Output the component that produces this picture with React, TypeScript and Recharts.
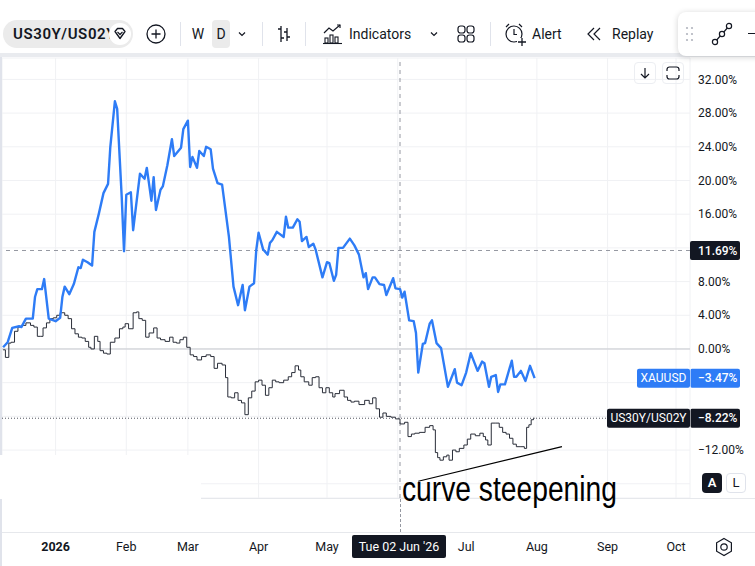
import React from "react";
import {
  ComposedChart,
  Line,
  XAxis,
  YAxis,
  CartesianGrid,
  ReferenceLine,
} from "recharts";

const FONT = "Roboto, 'Noto Sans', Arial, sans-serif";

// time scale, in days from 1 Jan 2026 (where each month label sits)
const monthDays = [1, 32, 59, 90, 120, 151, 181, 212, 243, 273];
const monthLabels = ["2026", "Feb", "Mar", "Apr", "May", "Jun", "Jul", "Aug", "Sep", "Oct"];

// percentage price scale
const pctTicks = [-16, -12, -8, -4, 0, 4, 8, 12, 16, 20, 24, 28, 32];
const hiddenPctLabels = [12, -4, -8, -16]; // sit under the tags / A-L buttons

// XAUUSD, % change (blue line)
const xauDays = [
  -22, -20, -18, -15, -14, -12, -9, -8, -7, -5, -4, -2, 1, 3, 4, 5, 7, 9, 11, 12,
  13, 15, 17, 18, 20, 22, 24, 25, 27, 28, 30, 31, 32, 34, 35, 37, 38, 40, 41, 43,
  44, 45, 47, 48, 50, 52, 53, 56, 57, 59, 60, 61, 63, 64, 66, 67, 69, 70, 72, 74,
  77, 79, 81, 83, 84, 86, 88, 89, 90, 92, 94, 95, 96, 98, 101, 102, 103, 105, 107, 108,
  109, 111, 112, 114, 115, 118, 120, 121, 123, 124, 125, 127, 130, 132, 134, 136, 137, 138, 140, 141,
  143, 145, 146, 149, 150, 152, 153, 154, 156, 158, 159, 160, 162, 163, 165, 166, 168, 170, 173, 176,
  177, 179, 181, 183, 186, 188, 189, 191, 192, 194, 195, 196, 198, 201, 202, 203, 205, 207, 209, 211,
];
const xauPct = [
  0.2, 0.8, 2.5, 2.7, 2.6, 3.6, 3.6, 6.2, 7.1, 7.1, 8.3, 3.6, 3.3, 3.7, 6.2, 7.4, 6.5, 7.7, 9.7, 9.6,
  10.6, 10.3, 9.9, 13.9, 16.1, 18.5, 19.6, 24.0, 29.4, 28.5, 18.0, 11.6, 18.3, 18.6, 14.1, 18.6, 20.8, 20.2, 21.5, 17.6,
  20.4, 16.5, 18.9, 19.3, 21.8, 24.9, 22.9, 23.9, 26.1, 27.1, 21.6, 22.8, 21.5, 23.5, 22.9, 24.0, 23.7, 21.4, 19.7, 19.5,
  13.3, 7.4, 5.2, 7.6, 4.6, 7.4, 7.8, 11.8, 13.8, 11.8, 11.2, 12.6, 12.9, 13.9, 13.3, 15.7, 14.4, 14.4, 15.4, 15.1,
  12.8, 13.3, 12.1, 12.5, 11.8, 8.5, 10.3, 10.2, 8.1, 8.8, 12.0, 12.0, 13.1, 12.3, 11.2, 8.5, 9.0, 7.1, 8.5, 8.5,
  7.7, 7.6, 6.4, 8.4, 7.2, 7.1, 6.1, 6.8, 3.4, 3.3, 1.9, -2.8, 0.6, 0.7, 3.0, 3.4, 0.7, 0.1, -4.5, -2.4,
  -4.0, -4.3, -2.8, -0.5, -2.6, -1.5, -1.7, -4.5, -3.3, -3.1, -5.1, -4.2, -4.2, -1.4, -3.3, -3.3, -2.6, -3.8, -2.0, -3.47,
];

// US30Y/US02Y, % change (black bars)
const curveDays = [
  -22, -20, -19, -18, -16, -15, -13, -11, -9, -8, -6, -5, -4, -2, -1, 1, 2, 4, 6, 7,
  9, 10, 12, 13, 15, 16, 17, 19, 20, 21, 23, 24, 26, 28, 30, 31, 32, 34, 36, 37,
  38, 40, 41, 43, 45, 46, 48, 50, 52, 53, 55, 56, 58, 59, 61, 62, 64, 66, 68, 70,
  71, 73, 75, 76, 77, 79, 80, 82, 83, 85, 86, 88, 89, 91, 92, 94, 95, 97, 98, 100,
  102, 104, 105, 107, 108, 109, 111, 113, 114, 116, 117, 119, 120, 122, 123, 124, 127, 128, 130, 131,
  133, 135, 138, 139, 141, 142, 144, 145, 147, 149, 151, 153, 155, 156, 158, 159, 162, 164, 166, 167,
  168, 169, 170, 172, 173, 174, 176, 177, 179, 181, 182, 184, 186, 188, 189, 190, 191, 193, 195, 196,
  198, 199, 201, 202, 204, 206, 207, 208, 209, 210, 211,
];
const curvePct = [
  -0.1, -1.0, 0.7, 0.8, 2.1, 2.6, 2.8, 3.1, 2.8, 2.6, 1.5, 1.5, 2.5, 3.1, 3.6, 3.7, 4.0, 4.3, 4.0, 3.6,
  2.4, 1.8, 1.4, 1.3, 0.9, 0.2, 0.0, 1.5, 0.9, -0.2, -0.5, -0.6, 0.8, 1.3, 2.4, 2.6, 3.0, 2.4, 4.3, 4.4,
  3.6, 3.4, 1.4, 1.9, 2.5, 1.3, 1.1, 0.9, 1.4, 0.8, 0.7, 1.1, 1.4, 0.2, -0.7, -0.9, -1.3, -0.9, -0.7, -0.9,
  -2.3, -1.7, -1.9, -3.4, -5.7, -5.8, -5.2, -6.1, -6.4, -7.8, -5.8, -5.0, -3.9, -3.7, -4.3, -5.5, -4.6, -3.7, -3.9, -4.0,
  -3.7, -3.3, -2.8, -2.0, -2.5, -3.3, -3.9, -4.3, -3.4, -3.3, -4.6, -5.2, -4.6, -5.2, -5.7, -5.3, -4.9, -5.7, -6.1, -6.3,
  -6.2, -6.6, -6.1, -6.5, -5.8, -7.1, -8.1, -7.6, -8.0, -8.1, -8.3, -8.9, -8.7, -10.4, -10.1, -10.0, -9.9, -9.3, -9.1, -9.6,
  -12.3, -12.9, -13.2, -12.8, -12.6, -13.2, -12.0, -12.2, -11.8, -11.4, -10.7, -10.1, -10.3, -10.0, -10.4, -10.8, -11.4, -8.8, -8.8, -9.3,
  -9.9, -10.1, -10.6, -11.3, -11.6, -11.6, -11.8, -9.3, -9.0, -8.4, -8.22,
];

const xauLast = -3.47;
const curveLast = -8.22;
const crosshairDay = 152; // Tue 02 Jun '26
const crosshairPct = 11.69;

// hand-drawn trend line under the recent lows
const trendDays = [160, 223];
const trendPct = [-15.7, -11.6];

const xauData = xauDays.map((day, i) => ({ day, pct: xauPct[i] }));
const curveData = curveDays.map((day, i) => ({ day, pct: curvePct[i] }));

const BLUE = "#2e7cf6";
const INK = "#131722";

const fmtPct = (v: number, digits = 2) =>
  (v < 0 ? "\u2212" : "") + Math.abs(v).toFixed(digits) + "%";

function MonthTick({ x, y, payload }: any) {
  const i = monthDays.indexOf(payload.value);
  // the crosshair date box covers the month under it
  if (Math.abs(payload.value - crosshairDay) < 15) return <g />;
  return (
    <text
      x={x}
      y={y}
      dy={53}
      textAnchor="middle"
      fontSize={12.5}
      fontWeight={i === 0 ? 700 : 400}
      fill={INK}
      fontFamily={FONT}
    >
      {monthLabels[i]}
    </text>
  );
}

function PctTick({ x, y, payload }: any) {
  if (hiddenPctLabels.includes(payload.value)) return <g />;
  return (
    <text x={x} y={y} dy="0.35em" textAnchor="start" fontSize={12} fill={INK} fontFamily={FONT}>
      {fmtPct(payload.value)}
    </text>
  );
}

function PriceTag({ viewBox, value, name, nameW = 0, bg }: any) {
  if (!viewBox) return null;
  const right = viewBox.x + viewBox.width;
  const y = viewBox.y;
  const h = 19;
  return (
    <g fontFamily={FONT} fontSize={12}>
      {name && <rect x={right - nameW} y={y - h / 2} width={nameW} height={h} rx={2} fill={bg} />}
      {name && (
        <text x={right - nameW / 2} y={y} dy="0.35em" textAnchor="middle" fill="#fff">
          {name}
        </text>
      )}
      <rect x={right} y={y - h / 2} width={50} height={h} rx={2} fill={bg} />
      {name && (
        <line x1={right + 0.5} x2={right + 0.5} y1={y - h / 2} y2={y + h / 2} stroke="rgba(255,255,255,0.55)" />
      )}
      <text x={right + 8} y={y} dy="0.35em" fill="#fff" fontWeight={500}>
        {value}
      </text>
    </g>
  );
}

const abs = (l: number, t: number, w: number, h: number, extra: any = {}) => ({
  position: "absolute" as const,
  left: l,
  top: t,
  width: w,
  height: h,
  ...extra,
});

function Sep({ x }: { x: number }) {
  return <div style={abs(x, 22, 1, 24, { background: "#e0e3eb" })} />;
}

function Toolbar() {
  const txt = { fontSize: 14, color: INK, fontFamily: FONT };
  return (
    <>
      <div style={abs(0, 0, 755, 54, { background: "#fff" })} />
      <div style={abs(0, 53, 755, 4, { background: "#e9ebef" })} />
      {/* symbol pill */}
      <div style={abs(3, 20, 130, 28, { background: "#ebebeb", borderRadius: 14 })} />
      <div
        style={abs(13, 24, 97, 20, {
          overflow: "hidden",
          whiteSpace: "nowrap",
          ...txt,
          fontSize: 15,
          letterSpacing: 0.6,
          fontWeight: 600,
          lineHeight: "20px",
        })}
      >
        US30Y/US02Y
      </div>
      <svg style={abs(108, 22, 24, 24)} viewBox="0 0 24 24">
        <circle cx={12} cy={12} r={11} fill="#fff" />
        <path d="M7 9.5 L9.5 6.5 H14.5 L17 9.5 L12 16.5 Z" fill="none" stroke={INK} strokeWidth={1.3} strokeLinejoin="round" />
        <path d="M9.5 9.8 L12 12.5 L14.5 9.8" fill="none" stroke={INK} strokeWidth={1.2} />
      </svg>
      {/* add symbol */}
      <svg style={abs(145, 23, 22, 22)} viewBox="0 0 22 22">
        <circle cx={11} cy={11} r={9} fill="none" stroke={INK} strokeWidth={1.3} />
        <path d="M11 6.5 V15.5 M6.5 11 H15.5" stroke={INK} strokeWidth={1.3} />
      </svg>
      <Sep x={180} />
      <div style={abs(190, 24, 16, 20, { ...txt, lineHeight: "20px", textAlign: "center" })}>W</div>
      <div style={abs(212, 20, 18, 28, { background: "#ebebeb", borderRadius: 4 })} />
      <div style={abs(212, 24, 18, 20, { ...txt, lineHeight: "20px", textAlign: "center" })}>D</div>
      <svg style={abs(236, 29, 12, 10)} viewBox="0 0 12 10">
        <path d="M3 3.5 L6 6.5 L9 3.5" fill="none" stroke={INK} strokeWidth={1.2} />
      </svg>
      <Sep x={262} />
      {/* bar style */}
      <svg style={abs(274, 24, 20, 20)} viewBox="0 0 20 20">
        <path d="M7 2 V18 M4 5 H7 M7 14 H10 M13 4 V17 M10 8 H13 M13 13 H16" stroke={INK} strokeWidth={1.3} fill="none" />
      </svg>
      <Sep x={305} />
      {/* indicators */}
      <svg style={abs(321, 22, 24, 24)} viewBox="0 0 24 24">
        <path d="M3 11 L8 6 L12 9 L19 3" fill="none" stroke={INK} strokeWidth={1.2} />
        <path d="M16 3 H19 V6" fill="none" stroke={INK} strokeWidth={1.2} />
        <rect x={4} y={16} width={3} height={5} fill="none" stroke={INK} strokeWidth={1.1} />
        <rect x={9} y={13} width={3} height={8} fill="none" stroke={INK} strokeWidth={1.1} />
        <rect x={14} y={15} width={3} height={6} fill="none" stroke={INK} strokeWidth={1.1} />
        <path d="M2 21.5 H21" stroke={INK} strokeWidth={1.1} />
      </svg>
      <div style={abs(349, 24, 70, 20, { ...txt, lineHeight: "20px" })}>Indicators</div>
      <svg style={abs(428, 29, 12, 10)} viewBox="0 0 12 10">
        <path d="M3 3.5 L6 6.5 L9 3.5" fill="none" stroke={INK} strokeWidth={1.2} />
      </svg>
      <svg style={abs(455, 23, 22, 22)} viewBox="0 0 22 22">
        {[3, 12].map((x) =>
          [3, 12].map((y) => (
            <rect key={`${x}-${y}`} x={x} y={y} width={7} height={7} rx={2.5} fill="none" stroke={INK} strokeWidth={1.2} />
          ))
        )}
      </svg>
      <Sep x={490} />
      {/* alert */}
      <svg style={abs(502, 21, 26, 26)} viewBox="0 0 26 26">
        <circle cx={12} cy={13} r={8} fill="none" stroke={INK} strokeWidth={1.2} />
        <path d="M12 8 V13.5 H15" fill="none" stroke={INK} strokeWidth={1.2} />
        <path d="M4 6 L7 3 M17 3 L20 6" stroke={INK} strokeWidth={1.2} />
        <rect x={15} y={17} width={10} height={9} fill="#fff" />
        <path d="M20 17 V25 M16 21 H24" stroke={INK} strokeWidth={1.3} />
      </svg>
      <div style={abs(532, 24, 40, 20, { ...txt, lineHeight: "20px" })}>Alert</div>
      {/* replay */}
      <svg style={abs(585, 25, 20, 18)} viewBox="0 0 20 18">
        <path d="M9 3 L3 9 L9 15 M15 3 L9 9 L15 15 M12.5 5.5 L9 9 L12.5 12.5" fill="none" stroke={INK} strokeWidth={1.2} />
      </svg>
      <div style={abs(612, 24, 50, 20, { ...txt, lineHeight: "20px" })}>Replay</div>
      {/* floating drawing panel */}
      <div
        style={abs(678, 12, 90, 44, {
          background: "#fff",
          borderRadius: 8,
          boxShadow: "0 1px 6px rgba(0,0,0,0.18)",
        })}
      />
      <svg style={abs(684, 24, 12, 20)} viewBox="0 0 12 20">
        {[4, 10, 16].map((y) =>
          [3, 8].map((x) => <circle key={`${x}-${y}`} cx={x} cy={y} r={1.1} fill="#b2b5be" />)
        )}
      </svg>
      <svg style={abs(709, 20, 26, 28)} viewBox="0 0 26 28">
        <path d="M5 23 L21 5" stroke={INK} strokeWidth={1.2} />
        <circle cx={6} cy={22} r={2.6} fill="#fff" stroke={INK} strokeWidth={1.2} />
        <circle cx={20} cy={6} r={2.6} fill="#fff" stroke={INK} strokeWidth={1.2} />
        <circle cx={13} cy={14} r={2.6} fill="#fff" stroke={INK} strokeWidth={1.2} />
      </svg>
      <div style={abs(748, 33, 10, 1.3, { background: INK })} />
    </>
  );
}

function ChartOverlays() {
  return (
    <>
      {/* left pane border */}
      <div style={abs(0, 57, 2, 509, { background: "#e0e3eb" })} />
      {/* blanked-out area bottom-left */}
      <div style={abs(0, 455, 201, 44, { background: "#fff" })} />
      {/* pane bottom edge and time-scale separator */}
      <div style={abs(201, 498, 554, 1, { background: "#e6e8ec" })} />
      <div style={abs(2, 532, 753, 1, { background: "#e6e8ec" })} />
      {/* crosshair continues down to the time scale */}
      <div style={abs(399.5, 499, 0, 33, { borderLeft: "1px dashed #9598a1" })} />
      {/* crosshair date */}
      <div
        style={abs(352, 535, 94, 23, {
          background: INK,
          borderRadius: 2,
          color: "#fff",
          fontSize: 12.5,
          lineHeight: "23px",
          textAlign: "center",
          fontFamily: FONT,
        })}
      >
        Tue 02 Jun '26
      </div>
      {/* settings gear */}
      <svg style={abs(713, 536, 22, 22)} viewBox="0 0 22 22">
        <path d="M11 2.5 L18.4 6.75 V15.25 L11 19.5 L3.6 15.25 V6.75 Z" fill="none" stroke={INK} strokeWidth={1.2} />
        <circle cx={11} cy={11} r={3.2} fill="none" stroke={INK} strokeWidth={1.2} />
      </svg>
      {/* top-right pane buttons */}
      <div style={abs(634, 62, 22, 22, { border: "1px solid #eceef2", borderRadius: 4, boxSizing: "border-box" })} />
      <svg style={abs(638, 66, 14, 14)} viewBox="0 0 14 14">
        <path d="M7 2 V12 M3 8 L7 12 L11 8" fill="none" stroke={INK} strokeWidth={1.2} />
      </svg>
      <div style={abs(662, 62, 22, 22, { border: "1px solid #eceef2", borderRadius: 4, boxSizing: "border-box" })} />
      <svg style={abs(665, 65, 16, 16)} viewBox="0 0 16 16">
        <path d="M2 6 V4.5 A2.5 2.5 0 0 1 4.5 2 H11.5 A2.5 2.5 0 0 1 14 4.5 V6 M2 10 V11.5 A2.5 2.5 0 0 0 4.5 14 H11.5 A2.5 2.5 0 0 0 14 11.5 V10" fill="none" stroke={INK} strokeWidth={1.2} />
      </svg>
      {/* A / L */}
      <div
        style={abs(702, 473, 20, 20, {
          background: INK,
          borderRadius: 4,
          color: "#fff",
          fontSize: 13,
          fontWeight: 600,
          lineHeight: "20px",
          textAlign: "center",
          fontFamily: FONT,
        })}
      >
        A
      </div>
      <div
        style={abs(726, 473, 20, 20, {
          border: "1px solid #e0e3eb",
          boxSizing: "border-box",
          borderRadius: 4,
          color: INK,
          fontSize: 13,
          lineHeight: "18px",
          textAlign: "center",
          fontFamily: FONT,
        })}
      >
        L
      </div>
      {/* annotation */}
      <svg style={abs(385, 460, 300, 60)} viewBox="385 460 300 60">
        <text
          x={402}
          y={501}
          fontSize={35}
          fontFamily="'Liberation Sans', Arial, sans-serif"
          textLength={215}
          lengthAdjust="spacingAndGlyphs"
          fill="#000"
        >
          curve steepening
        </text>
      </svg>
    </>
  );
}

export default function App() {
  return (
    <div
      style={{
        position: "absolute",
        left: 0,
        top: 0,
        width: 755,
        height: 566,
        background: "#fff",
        overflow: "hidden",
        fontFamily: FONT,
      }}
    >
      <div style={abs(0, 0, 755, 566)}>
        <ComposedChart width={755} height={566} margin={{ top: 58, right: 0, bottom: 0, left: 2 }}>
          <CartesianGrid stroke="#f0f1f4" strokeWidth={1} />
          <XAxis
            dataKey="day"
            type="number"
            domain={[-22.49, 279.13]}
            allowDataOverflow
            ticks={monthDays}
            interval={0}
            height={68}
            tick={<MonthTick />}
            tickSize={0}
            tickMargin={0}
            axisLine={false}
            tickLine={false}
          />
          <YAxis
            orientation="right"
            type="number"
            domain={[-17.69, 34.54]}
            allowDataOverflow
            ticks={pctTicks}
            interval={0}
            width={65}
            tick={<PctTick />}
            tickSize={0}
            tickMargin={8}
            axisLine={false}
            tickLine={false}
          />
          <ReferenceLine y={0} stroke="#c6c8ce" strokeWidth={1} />
          <ReferenceLine x={crosshairDay} stroke="#9598a1" strokeDasharray="4 4" />
          <ReferenceLine
            y={crosshairPct}
            stroke="#9598a1"
            strokeDasharray="4 4"
            label={{ content: (p: any) => <PriceTag viewBox={p.viewBox} value={fmtPct(crosshairPct)} bg={INK} /> }}
          />
          <Line
            data={curveData}
            dataKey="pct"
            type="step"
            stroke="#2a2e39"
            strokeWidth={1}
            dot={false}
            isAnimationActive={false}
          />
          <Line
            data={xauData}
            dataKey="pct"
            type="linear"
            stroke={BLUE}
            strokeWidth={2.4}
            dot={false}
            strokeLinejoin="round"
            isAnimationActive={false}
          />
          <ReferenceLine
            segment={[
              { x: trendDays[0], y: trendPct[0] },
              { x: trendDays[1], y: trendPct[1] },
            ]}
            stroke="#000"
            strokeWidth={1.2}
            ifOverflow="visible"
          />
          <ReferenceLine
            y={curveLast}
            stroke="#50535e"
            strokeDasharray="1 2"
            label={{
              content: (p: any) => (
                <PriceTag viewBox={p.viewBox} value={fmtPct(curveLast)} name="US30Y/US02Y" nameW={83} bg={INK} />
              ),
            }}
          />
          <ReferenceLine
            y={xauLast}
            stroke="none"
            strokeOpacity={0}
            label={{
              content: (p: any) => (
                <PriceTag viewBox={p.viewBox} value={fmtPct(xauLast)} name="XAUUSD" nameW={53} bg={BLUE} />
              ),
            }}
          />
        </ComposedChart>
      </div>
      <Toolbar />
      <ChartOverlays />
    </div>
  );
}
